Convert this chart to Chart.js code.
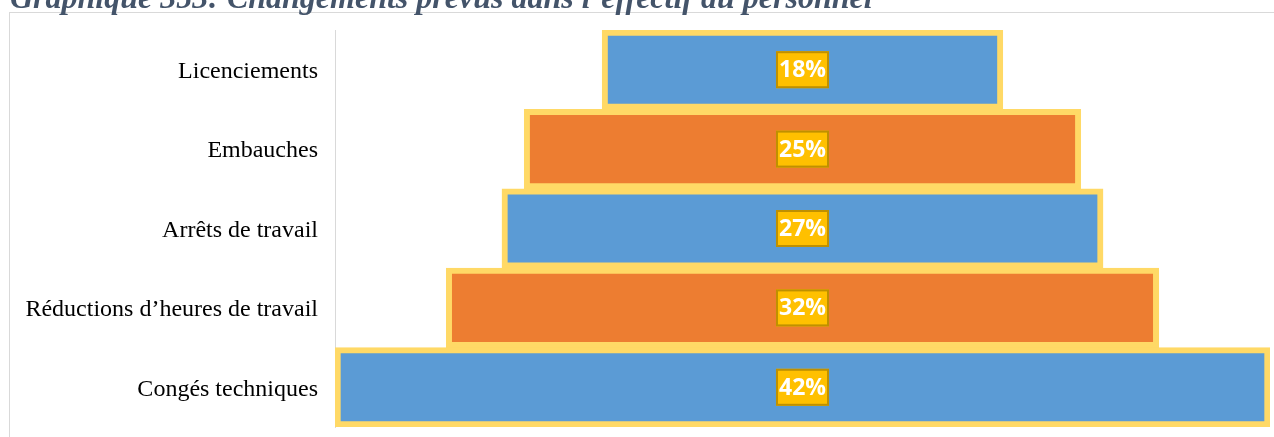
<!DOCTYPE html>
<html lang="fr">
<head>
<meta charset="utf-8">
<script src="https://cdn.jsdelivr.net/npm/chart.js@4/dist/chart.umd.min.js"></script>
<style>
  html, body { margin: 0; padding: 0; background: #ffffff; }
  #wrap { position: relative; width: 1274px; height: 437px; overflow: hidden; }
  canvas { display: block; }
</style>
</head>
<body>
<div id="wrap"><canvas id="chart" width="1274" height="437"></canvas></div>
<script>
// Planned changes in staff numbers (% of respondents)
const titleText = 'Graphique 353: Changements prévus dans l’effectif du personnel';
const categories = [
  'Licenciements',
  'Embauches',
  'Arrêts de travail',
  'Réductions d’heures de travail',
  'Congés techniques'
];
const values = [18, 25, 27, 32, 42];
const barColors = ['#5B9BD5', '#ED7D31', '#5B9BD5', '#ED7D31', '#5B9BD5'];

// Each bar is centred on zero so the stack reads as a funnel
const spans = values.map(v => [-v / 2, v / 2]);

const framePlugin = {
  id: 'frame',
  beforeDraw(chart) {
    const ctx = chart.ctx;
    ctx.save();
    ctx.fillStyle = '#ffffff';
    ctx.fillRect(0, 0, chart.width, chart.height);
    ctx.strokeStyle = '#D9D9D9';
    ctx.lineWidth = 1;
    ctx.strokeRect(9.5, 12.5, chart.width + 20, chart.height + 20);
    ctx.font = 'italic bold 32px "Liberation Serif", "Times New Roman", serif';
    ctx.fillStyle = '#44546A';
    ctx.textAlign = 'left';
    ctx.textBaseline = 'alphabetic';
    ctx.fillText(titleText, 10, 8);
    ctx.restore();
  }
};

const valueLabelPlugin = {
  id: 'valueLabels',
  afterDatasetsDraw(chart) {
    const ctx = chart.ctx;
    const xScale = chart.scales.x;
    const meta = chart.getDatasetMeta(0);
    ctx.save();
    ctx.font = 'bold 23px "Open Sans", "DejaVu Sans", sans-serif';
    ctx.textAlign = 'center';
    ctx.textBaseline = 'middle';
    meta.data.forEach((bar, i) => {
      const text = values[i] + '%';
      const cx = xScale.getPixelForValue(0);
      const cy = bar.y;
      const w = ctx.measureText(text).width + 6;
      const h = 37;
      ctx.fillStyle = '#FFC000';
      ctx.fillRect(cx - w / 2, cy - h / 2, w, h);
      ctx.strokeStyle = '#BF9000';
      ctx.lineWidth = 2;
      ctx.strokeRect(cx - w / 2 + 1, cy - h / 2 + 1, w - 2, h - 2);
      ctx.fillStyle = '#ffffff';
      ctx.fillText(text, cx, cy + 1);
    });
    ctx.restore();
  }
};

new Chart(document.getElementById('chart'), {
  type: 'bar',
  data: {
    labels: categories,
    datasets: [{
      data: spans,
      backgroundColor: barColors,
      borderColor: '#FFD966',
      borderWidth: 6,
      borderSkipped: false,
      categoryPercentage: 1,
      barPercentage: 1
    }]
  },
  options: {
    indexAxis: 'y',
    responsive: false,
    animation: false,
    devicePixelRatio: 1,
    layout: { padding: { left: 0, right: 4, top: 30, bottom: 10 } },
    plugins: {
      legend: { display: false },
      tooltip: { enabled: false },
      title: { display: false }
    },
    scales: {
      x: {
        type: 'linear',
        min: -21,
        max: 21,
        display: false
      },
      y: {
        type: 'category',
        grid: { display: false, drawTicks: false },
        border: { display: true, color: '#D9D9D9', width: 1 },
        ticks: {
          color: '#000000',
          padding: 17,
          labelOffset: 2,
          font: { family: '"Liberation Serif", "Times New Roman", serif', size: 24 }
        },
        afterFit(scale) {
          scale.width = 335;
          scale.paddingTop = 0;
          scale.paddingBottom = 0;
        }
      }
    }
  },
  plugins: [framePlugin, valueLabelPlugin]
});
</script>
</body>
</html>
